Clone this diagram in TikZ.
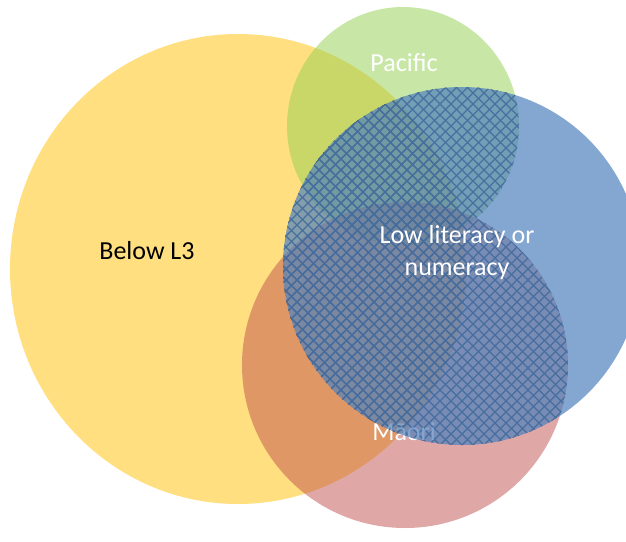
\documentclass[tikz,border=0pt]{standalone}
\usepackage{fontspec}
\setmainfont{Carlito}
\definecolor{y}{HTML}{FFC000}
\definecolor{g}{HTML}{92D050}
\definecolor{r}{HTML}{C0504D}
\definecolor{b}{HTML}{4F81BD}
\definecolor{h}{HTML}{1F3550}

\begin{document}
\begin{tikzpicture}[x=1pt,y=-1pt,font=\fontsize{26}{32}\selectfont,
  set/.style={fill=#1,fill opacity=.5},
  lbl/.style={text=white,align=center,inner sep=0pt},
  hatch/.style={draw=h,line width=1.1pt}]
  \useasboundingbox (0,0) rectangle (626,541);
  % centres of the four groups
  \coordinate (l3) at (238,269);
  \coordinate (pac) at (403,126);
  \coordinate (mao) at (405,365);
  \coordinate (lit) at (462,266);
  \fill[set=y] (l3) ellipse [x radius=228,y radius=235];
  \fill[set=g] (pac) ellipse [x radius=116,y radius=119];
  \fill[set=r] (mao) circle [radius=163];
  % cross-hatch low literacy where it meets another group
  \begin{scope}[transparency group,opacity=.9]
    \clip (lit) circle [radius=179];
    \foreach \c/\rx/\ry in {l3/228/235,pac/116/119,mao/163/163}{
      \begin{scope}
        \clip (\c) ellipse [x radius=\rx,y radius=\ry];
        \foreach \k in {-20,...,105}{
          \draw[hatch] (11*\k,60) -- ++(480,480);
          \draw[hatch] (11*\k,60) -- ++(-480,480);
        }
      \end{scope}
    }
  \end{scope}
  \node[inner sep=0pt,anchor=base] (l3lbl) at (147,259) {Below L3};
  \node[lbl,anchor=base] (paclbl) at (404,71) {Pacific};
  \node[lbl,anchor=base] (maolbl) at (404,440) {Māori};
  \fill[set=b,fill opacity=.7] (lit) circle [radius=179];
  \node[lbl] (litlbl) at (457,253) {Low literacy or\\numeracy};
\end{tikzpicture}
\end{document}
